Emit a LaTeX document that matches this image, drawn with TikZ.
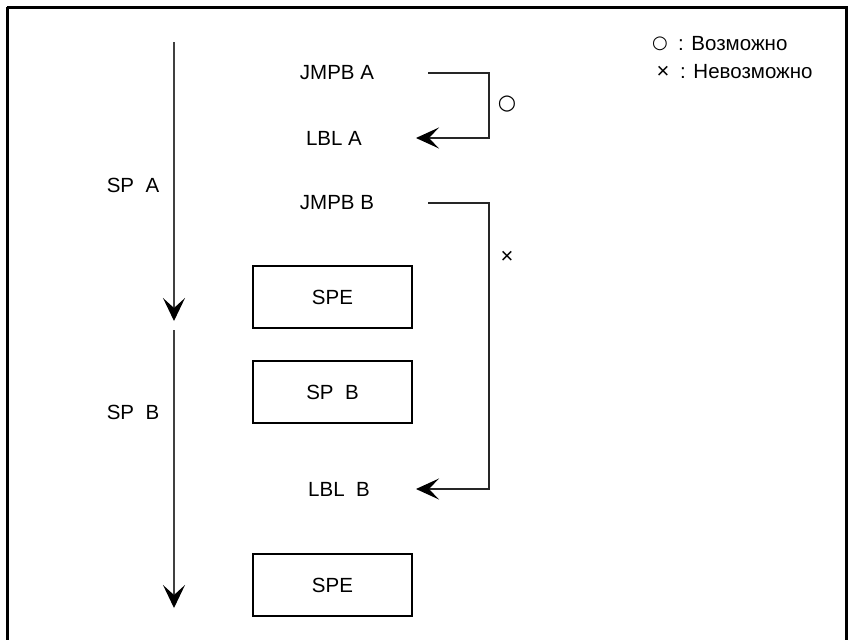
\documentclass[tikz,border=0pt]{standalone}
\usepackage{fontspec}
\setmainfont{Liberation Sans}
\newfontfamily\symfont{DejaVu Sans}
\usetikzlibrary{arrows.meta}
\begin{document}
\begin{tikzpicture}[x=1pt,y=-1pt,
  lbl/.style={inner sep=0pt,font=\fontsize{20.5}{22}\selectfont},
  boxnode/.style={draw,line width=1.3pt,minimum width=159pt,minimum height=62pt,inner sep=0pt,font=\fontsize{20.5}{22}\selectfont},
  flow/.style={draw=black!75,line width=1.3pt,-{Stealth[length=23pt,width=22pt,inset=10pt,color=black]}},
  jump/.style={draw=black!85,line width=1.2pt,-{Stealth[length=23pt,width=21pt,inset=10pt,color=black]}},
  frame/.style={draw,line width=3pt}]
\useasboundingbox (0,0) rectangle (849,640);
\draw[frame] (7,7) -- (846,7) -- (846,650) (7,7) -- (7,650);
% flow arrows
\coordinate (fa1) at (174,42);
\coordinate (fa2) at (174,321);
\coordinate (fb1) at (174,330);
\coordinate (fb2) at (174,608);
\draw[flow] (fa1) -- (fa2);
\draw[flow] (fb1) -- (fb2);
\node[lbl] (spa) at (133,185) {SP\ \ A};
\node[lbl] (spb) at (133,412) {SP\ \ B};
% labels
\node[lbl] (jmpa) at (337,73) {JMPB A};
\node[lbl] (lbla) at (334,138) {LBL A};
\node[lbl] (jmpb) at (337,203) {JMPB B};
\node[lbl] (lblb) at (339,489) {LBL\ \ B};
% boxes
\node[boxnode] (spe1) at (332.5,297) {SPE};
\node[boxnode] (spbb) at (332.5,392) {SP\ \ B};
\node[boxnode] (spe2) at (332.5,585) {SPE};
% jump connectors
\coordinate (ja) at (428,73);
\coordinate (jat) at (416,138);
\coordinate (jb) at (428,203);
\coordinate (jbt) at (416,489);
\draw[jump] (ja) -- (489,73) |- (jat);
\draw[jump] (jb) -- (489,203) |- (jbt);
\node[lbl,font=\symfont\fontsize{21}{22}\selectfont] (ok) at (507,104) {○};
\node[lbl,font=\fontsize{22}{22}\selectfont] (ng) at (507,257) {×};
% legend
\node[lbl,font=\symfont\fontsize{18}{18}\selectfont] (leg1s) at (660,44) {○};
\node[lbl,anchor=west] (leg1) at (678,44) {: Возможно};
\node[lbl,font=\fontsize{22}{22}\selectfont] (leg2s) at (663,72) {×};
\node[lbl,anchor=west] (leg2) at (680,72) {: Невозможно};
\end{tikzpicture}
\end{document}
